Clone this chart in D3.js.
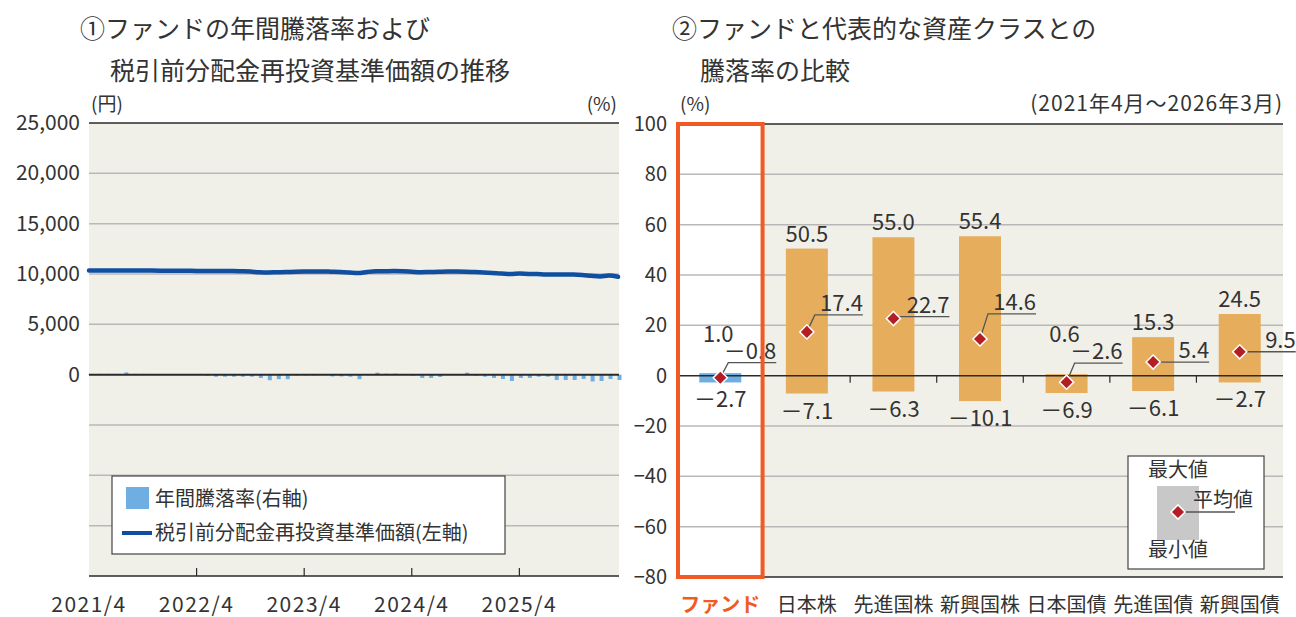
<!DOCTYPE html>
<html>
<head>
<meta charset="utf-8">
<script src="https://cdn.jsdelivr.net/npm/d3@7"></script>
<style>
body { margin: 0; background: #fff; }
text { font-family: "Noto Sans CJK JP", "Noto Sans", sans-serif; fill: #333; }
</style>
</head>
<body>
<div id="chart"></div>
<script>
// ---- data: left chart (monthly, 2021/4 .. 2026/3) ----
var navValues = [
    10350, 10350, 10360, 10360, 10350, 10340, 10350, 10340, 10330, 10320,
    10330, 10320, 10300, 10310, 10300, 10290, 10290, 10270, 10240, 10170,
    10150, 10170, 10190, 10230, 10250, 10260, 10260, 10230, 10200, 10150,
    10090, 10200, 10270, 10280, 10290, 10280, 10230, 10180, 10200, 10220,
    10240, 10240, 10230, 10190, 10150, 10100, 10060, 10000, 10050, 10010,
    9990, 9960, 9960, 9950, 9940, 9900, 9820, 9760, 9850, 9730
];
var annualReturns = [
    0.3, 0.3, 0.3, 0.3, 0.9, 0.3, 0.3, 0, 0, 0,
    0, 0, 0, -0.4, -0.8, -0.8, -0.8, -0.8, -0.8, -1.3,
    -2.2, -1.8, -1.8, -0.3, -0.3, -0.3, 0, -0.7, -0.7, -0.8,
    -1.8, 0, 0.8, 0.4, 0.4, 0, -0.4, -1.3, -1.3, -0.9,
    0, 0, 0.8, -0.4, -0.8, -1.3, -1.7, -2.5, -1.3, -1.3,
    -0.8, -0.8, -2.1, -2.1, -2.1, -1.7, -2.7, -2.5, -1.7, -2.1
];
var yearTickIndex = [0, 12, 24, 36, 48];
var yearTickLabels = ["2021/4", "2022/4", "2023/4", "2024/4", "2025/4"];
var navTicks = [0, 5000, 10000, 15000, 20000, 25000];

// ---- data: right chart ----
var assetClasses = ["ファンド", "日本株", "先進国株", "新興国株", "日本国債", "先進国債", "新興国債"];
var maxReturns = [1.0, 50.5, 55.0, 55.4, 0.6, 15.3, 24.5];
var avgReturns = [-0.8, 17.4, 22.7, 14.6, -2.6, 5.4, 9.5];
var minReturns = [-2.7, -7.1, -6.3, -10.1, -6.9, -6.1, -2.7];
var pctTicks = [-80, -60, -40, -20, 0, 20, 40, 60, 80, 100];

// leader line rise above the diamond (px), per category
var leaderRise = [15, 17, 2, 25, 19, 0, 0];

var W = 1296, H = 617;
var bg = "#f1f0e8", gridColor = "#b8b8b8", dark = "#2a2a2a";

var svg = d3.select("#chart").append("svg")
    .attr("width", W)
    .attr("height", H);

function fmt(v) {
    var s = Math.abs(v).toFixed(1);
    return v < 0 ? "\uff0d" + s : s;
}

// ================= left chart =================
var L = { left: 89, right: 619, top: 123, bottom: 576 };
var xL = d3.scaleLinear().domain([0, 59]).range([L.left, 618]);
var yL = d3.scaleLinear().domain([-20000, 25000]).range([L.bottom, L.top]);
var yLR = d3.scaleLinear().domain([-80, 100]).range([L.bottom, L.top]);

var left = svg.append("g");
left.append("rect")
    .attr("x", L.left).attr("y", L.top)
    .attr("width", L.right - L.left).attr("height", L.bottom - L.top)
    .attr("fill", bg);

left.selectAll(".grid")
    .data(d3.range(-15000, 25000, 5000).filter(function (d) { return d !== 0; }))
    .enter().append("line")
    .attr("x1", L.left).attr("x2", L.right)
    .attr("y1", function (d) { return yL(d); })
    .attr("y2", function (d) { return yL(d); })
    .attr("stroke", gridColor).attr("stroke-width", 1.5);

left.append("line")
    .attr("x1", L.left).attr("x2", L.right)
    .attr("y1", yL(25000)).attr("y2", yL(25000))
    .attr("stroke", dark).attr("stroke-width", 1.5);

// bars (right axis, %)
left.selectAll(".bar")
    .data(annualReturns)
    .enter().append("rect")
    .attr("x", function (d, i) { return xL(i) - 0.5; })
    .attr("width", 4)
    .attr("y", function (d) { return yLR(Math.max(0, d)); })
    .attr("height", function (d) { return Math.abs(yLR(d) - yLR(0)); })
    .attr("fill", "#6eaee2");

left.append("line")
    .attr("x1", L.left).attr("x2", L.right)
    .attr("y1", yL(0)).attr("y2", yL(0))
    .attr("stroke", dark).attr("stroke-width", 2);

// NAV line
left.append("path")
    .datum(navValues)
    .attr("d", d3.line()
        .x(function (d, i) { return xL(i); })
        .y(function (d) { return yL(d); })
        .curve(d3.curveMonotoneX))
    .attr("fill", "none")
    .attr("stroke", "#0f4ea1")
    .attr("stroke-width", 4.5)
    .attr("stroke-linecap", "round");

// bottom axis
left.append("line")
    .attr("x1", L.left).attr("x2", L.right)
    .attr("y1", L.bottom).attr("y2", L.bottom)
    .attr("stroke", dark).attr("stroke-width", 1.5);
left.selectAll(".xtick")
    .data(yearTickIndex.slice(1))
    .enter().append("line")
    .attr("x1", function (d) { return xL(d); })
    .attr("x2", function (d) { return xL(d); })
    .attr("y1", L.bottom).attr("y2", L.bottom - 8)
    .attr("stroke", dark).attr("stroke-width", 1.2);
left.selectAll(".xlab")
    .data(yearTickIndex)
    .enter().append("text")
    .attr("x", function (d) { return xL(d); })
    .attr("y", 612)
    .attr("text-anchor", "middle")
    .attr("font-size", 21)
    .attr("letter-spacing", 1.5)
    .text(function (d, i) { return yearTickLabels[i]; });

left.selectAll(".ylab")
    .data(navTicks)
    .enter().append("text")
    .attr("x", 80)
    .attr("y", function (d) { return yL(d) + 7; })
    .attr("text-anchor", "end")
    .attr("font-size", 21)
    .text(function (d) { return d3.format(",")(d); });

left.append("text").attr("x", 91).attr("y", 111).attr("font-size", 19).text("(円)");
left.append("text").attr("x", 617).attr("y", 111).attr("text-anchor", "end").attr("font-size", 19).text("(%)");

left.append("text").attr("x", 80).attr("y", 38).attr("font-size", 25).text("①ファンドの年間騰落率および");
left.append("text").attr("x", 110).attr("y", 80).attr("font-size", 25).text("税引前分配金再投資基準価額の推移");

// legend
var lg = left.append("g");
lg.append("rect")
    .attr("x", 112).attr("y", 476).attr("width", 393).attr("height", 78)
    .attr("fill", "#fff").attr("stroke", "#444").attr("stroke-width", 1.2);
lg.append("rect").attr("x", 126).attr("y", 487).attr("width", 23).attr("height", 22).attr("fill", "#6eaee2");
lg.append("text").attr("x", 155).attr("y", 506).attr("font-size", 20).text("年間騰落率(右軸)");
lg.append("line").attr("x1", 122).attr("x2", 152).attr("y1", 533).attr("y2", 533)
    .attr("stroke", "#0f4ea1").attr("stroke-width", 4);
lg.append("text").attr("x", 155).attr("y", 540).attr("font-size", 20).text("税引前分配金再投資基準価額(左軸)");

// ================= right chart =================
var R = { left: 677, right: 1283, top: 124, bottom: 577 };
var xR = d3.scaleBand().domain(assetClasses).range([R.left, R.right]).paddingInner(0).paddingOuter(0);
var yR = d3.scaleLinear().domain([-80, 100]).range([R.bottom, R.top]);
var bw = 42;

var right = svg.append("g");
right.append("rect")
    .attr("x", R.left).attr("y", R.top)
    .attr("width", R.right - R.left).attr("height", R.bottom - R.top)
    .attr("fill", bg);
// fund column white
right.append("rect")
    .attr("x", xR(assetClasses[0])).attr("y", R.top)
    .attr("width", xR.bandwidth()).attr("height", R.bottom - R.top)
    .attr("fill", "#fff");

right.selectAll(".grid")
    .data(pctTicks.filter(function (d) { return d !== 0 && d !== -80 && d !== 100; }))
    .enter().append("line")
    .attr("x1", R.left).attr("x2", R.right)
    .attr("y1", function (d) { return yR(d); })
    .attr("y2", function (d) { return yR(d); })
    .attr("stroke", gridColor).attr("stroke-width", 1.5);
right.append("line")
    .attr("x1", R.left).attr("x2", R.right)
    .attr("y1", yR(100)).attr("y2", yR(100))
    .attr("stroke", dark).attr("stroke-width", 1.5);
right.append("line")
    .attr("x1", R.left).attr("x2", R.right)
    .attr("y1", yR(-80)).attr("y2", yR(-80))
    .attr("stroke", dark).attr("stroke-width", 1.5);

// range bars
right.selectAll(".rbar")
    .data(assetClasses)
    .enter().append("rect")
    .attr("x", function (d) { return xR(d) + xR.bandwidth() / 2 - bw / 2; })
    .attr("width", bw)
    .attr("y", function (d, i) { return yR(maxReturns[i]); })
    .attr("height", function (d, i) { return yR(minReturns[i]) - yR(maxReturns[i]); })
    .attr("fill", function (d, i) { return i === 0 ? "#6eaee2" : "#e5ad5c"; });

// zero line + ticks
right.append("line")
    .attr("x1", R.left).attr("x2", R.right)
    .attr("y1", yR(0)).attr("y2", yR(0))
    .attr("stroke", dark).attr("stroke-width", 1.5);
right.selectAll(".rtick")
    .data(assetClasses.slice(2))
    .enter().append("line")
    .attr("x1", function (d) { return xR(d); })
    .attr("x2", function (d) { return xR(d); })
    .attr("y1", yR(0)).attr("y2", yR(0) + 7)
    .attr("stroke", dark).attr("stroke-width", 1.2);

// leader lines + avg labels
var diamond = d3.symbol().type(d3.symbolSquare).size(100);
assetClasses.forEach(function (c, i) {
    var cx = xR(c) + xR.bandwidth() / 2;
    var cy = yR(avgReturns[i]);
    var ly = cy - leaderRise[i];
    var lx0 = leaderRise[i] > 4 ? cx + 8 : cx + 6;
    var lx1 = cx + 56;
    right.append("path")
        .attr("d", "M" + cx + "," + cy + "L" + lx0 + "," + ly + "L" + lx1 + "," + ly)
        .attr("fill", "none").attr("stroke", "#555").attr("stroke-width", 1.3);
    right.append("path")
        .attr("d", diamond())
        .attr("transform", "translate(" + cx + "," + cy + ") rotate(45)")
        .attr("fill", "#b51d24").attr("stroke", "#fff").attr("stroke-width", 1.5);
    right.append("text")
        .attr("x", lx1).attr("y", ly - 4)
        .attr("text-anchor", "end").attr("font-size", 22)
        .text(fmt(avgReturns[i]));
    var maxY = Math.min(yR(maxReturns[i]) - 7, ly - 21);
    right.append("text")
        .attr("x", leaderRise[i] > 4 && maxY < yR(maxReturns[i]) - 8 ? cx - 2 : cx)
        .attr("y", maxY)
        .attr("text-anchor", "middle").attr("font-size", 22)
        .text(fmt(maxReturns[i]));
    right.append("text")
        .attr("x", cx).attr("y", yR(minReturns[i]) + 25)
        .attr("text-anchor", "middle").attr("font-size", 22)
        .text(fmt(minReturns[i]));
});

// fund highlight frame
right.append("rect")
    .attr("x", xR(assetClasses[0]) + 1).attr("y", R.top)
    .attr("width", xR.bandwidth() - 2).attr("height", R.bottom - R.top)
    .attr("fill", "none").attr("stroke", "#f15a24").attr("stroke-width", 4);

right.selectAll(".ylab")
    .data(pctTicks)
    .enter().append("text")
    .attr("x", 667)
    .attr("y", function (d) { return yR(d) + 7; })
    .attr("text-anchor", "end")
    .attr("font-size", 20)
    .text(function (d) { return d < 0 ? "\u2212" + Math.abs(d) : d; });

right.selectAll(".xlab")
    .data(assetClasses)
    .enter().append("text")
    .attr("x", function (d) { return xR(d) + xR.bandwidth() / 2; })
    .attr("y", 612)
    .attr("text-anchor", "middle")
    .attr("font-size", 20)
    .attr("font-weight", function (d, i) { return i === 0 ? "bold" : "normal"; })
    .style("fill", function (d, i) { return i === 0 ? "#f15a24" : "#333"; })
    .text(function (d) { return d; });

right.append("text").attr("x", 680).attr("y", 111).attr("font-size", 19).text("(%)");
right.append("text").attr("x", 1283).attr("y", 111).attr("text-anchor", "end").attr("font-size", 21)
    .attr("letter-spacing", 1).text("(2021年4月～2026年3月)");
right.append("text").attr("x", 672).attr("y", 38).attr("font-size", 25).text("②ファンドと代表的な資産クラスとの");
right.append("text").attr("x", 700).attr("y", 80).attr("font-size", 25).text("騰落率の比較");

// right legend
var rg = right.append("g");
rg.append("rect").attr("x", 1128).attr("y", 456).attr("width", 136).attr("height", 113)
    .attr("fill", "#fff").attr("stroke", "#444").attr("stroke-width", 1.2);
rg.append("rect").attr("x", 1157).attr("y", 486).attr("width", 42).attr("height", 54).attr("fill", "#c8c8c8");
rg.append("text").attr("x", 1178).attr("y", 477).attr("text-anchor", "middle").attr("font-size", 20).text("最大値");
rg.append("text").attr("x", 1178).attr("y", 557).attr("text-anchor", "middle").attr("font-size", 20).text("最小値");
rg.append("line").attr("x1", 1178).attr("x2", 1235).attr("y1", 512).attr("y2", 512)
    .attr("stroke", "#555").attr("stroke-width", 1.3);
rg.append("path").attr("d", diamond())
    .attr("transform", "translate(1178,512) rotate(45)")
    .attr("fill", "#b51d24").attr("stroke", "#fff").attr("stroke-width", 1.5);
rg.append("text").attr("x", 1253).attr("y", 507).attr("text-anchor", "end").attr("font-size", 20).text("平均値");
</script>
</body>
</html>
